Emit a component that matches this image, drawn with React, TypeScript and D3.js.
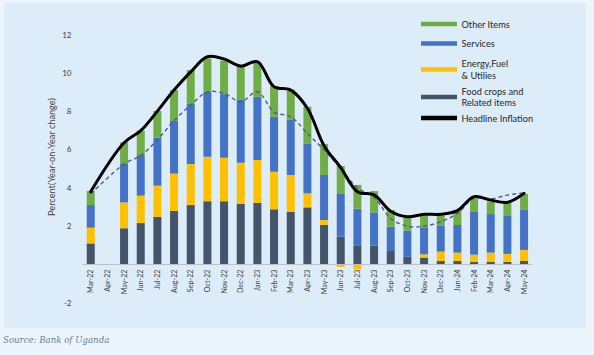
import React from "react";
import * as d3 from "d3";

const categories = [
  "Mar-22", "Apr-22", "May-22", "Jun-22", "Jul-22", "Aug-22", "Sep-22", "Oct-22", "Nov-22",
  "Dec-22", "Jan-23", "Feb-23", "Mar-23", "Apr-23", "May-23", "Jun-23", "Jul-23", "Aug-23",
  "Sep-23", "Oct-23", "Nov-23", "Dec-23", "Jun-24", "Feb-24", "Mar-24", "Apr-24", "May-24",
];

const food: (number | null)[] = [
  1.1, null, 1.89, 2.16, 2.48, 2.79, 3.1, 3.3, 3.3, 3.16, 3.22, 2.88, 2.75, 2.98, 2.06, 1.45,
  0.97, 0.98, 0.7, 0.4, 0.36, 0.18, 0.18, 0.13, 0.13, 0.13, 0.18,
];
const energy: (number | null)[] = [
  0.82, null, 1.35, 1.43, 1.63, 1.95, 2.14, 2.32, 2.27, 2.15, 2.23, 1.96, 1.92, 0.73, 0.26, -0.13,
  -0.25, 0.0, 0.0, 0.0, 0.17, 0.49, 0.44, 0.38, 0.49, 0.42, 0.58,
];
const services: (number | null)[] = [
  1.18, null, 2.04, 2.12, 2.5, 2.75, 3.13, 3.39, 3.32, 3.27, 3.3, 2.87, 2.9, 2.58, 2.35, 2.23,
  1.94, 1.74, 1.27, 1.36, 1.41, 1.34, 1.44, 2.23, 2.01, 1.98, 2.08,
];
const other: (number | null)[] = [
  0.73, null, 1.09, 1.27, 1.4, 1.61, 1.78, 1.74, 1.74, 1.74, 1.83, 1.6, 1.57, 1.94, 1.62, 1.46,
  1.24, 1.11, 0.87, 0.73, 0.69, 0.57, 0.78, 0.71, 0.65, 0.66, 0.84,
];
const headline: (number | null)[] = [
  3.8, null, 6.35, 6.98, 8.0, 9.1, 10.05, 10.84, 10.72, 10.35, 10.58, 9.27, 9.1, 8.15, 6.2, 5.05,
  3.8, 3.63, 2.78, 2.49, 2.62, 2.62, 2.81, 3.54, 3.36, 3.24, 3.71,
];
const core: (number | null)[] = [
  3.68, null, 5.24, 5.68, 6.5, 7.5, 8.32, 9.0, 8.93, 8.49, 9.01, 7.95, 7.71, 6.84, 5.97, 5.0,
  4.0, 3.5, 2.4, 2.0, 2.0, 2.23, 2.67, 3.45, 3.42, 3.62, 3.74,
];
const yTicks = [12, 10, 8, 6, 4, 2, -2];

const seriesKeys = ["food", "energy", "services", "other"];
const seriesColors: Record<string, string> = {
  food: "#44546a",
  energy: "#ffc000",
  services: "#4472c4",
  other: "#70ad47",
};

const legendItems = [
  { lines: ["Other Items"], color: "#70ad47", y: 24 },
  { lines: ["Services"], color: "#4472c4", y: 43.5 },
  { lines: ["Energy,Fuel", "& Utilies"], color: "#ffc000", y: 69.5 },
  { lines: ["Food crops and", "Related items"], color: "#44546a", y: 97 },
  { lines: ["Headline Inflation"], color: "#000000", y: 118 },
];

export default function App() {
  const W = 594;
  const H = 355;
  const x = d3
    .scaleBand<string>()
    .domain(categories)
    .range([82.4, 532.4])
    .paddingInner(0.52)
    .paddingOuter(0.26);
  const y = d3.scaleLinear().domain([-2, 12]).range([302.8, 34.5]);

  const rows = categories.map((c, i) => ({
    cat: c,
    food: food[i] ?? 0,
    energy: energy[i] ?? 0,
    services: services[i] ?? 0,
    other: other[i] ?? 0,
  }));
  const stacked = d3
    .stack<any>()
    .keys(seriesKeys)
    .offset(d3.stackOffsetDiverging)(rows);

  const cx = (c: string) => (x(c) ?? 0) + x.bandwidth() / 2;
  const mkLine = (vals: (number | null)[]) => {
    const pts: [number, number][] = [];
    vals.forEach((v, i) => {
      if (v !== null) pts.push([cx(categories[i]), y(v)]);
    });
    return d3.line().curve(d3.curveCatmullRom.alpha(0.5))(pts) ?? "";
  };

  const font = "Lato, 'Open Sans', sans-serif";
  const textColor = "#404040";

  return (
    <svg
      width={W}
      height={H}
      style={{ position: "absolute", left: 0, top: 0, display: "block" }}
    >
      <rect x={0} y={0} width={W} height={H} fill="#ecf5fc" />
      <rect x={4} y={3} width={582} height={325} fill="#dcedf9" />

      {stacked.map((s) => (
        <g key={s.key} fill={seriesColors[s.key]}>
          {s.map((d, i) => {
            if (food[i] === null) return null;
            const h = Math.abs(y(d[0]) - y(d[1]));
            if (h < 0.01) return null;
            return (
              <rect
                key={i}
                x={x(categories[i])}
                y={Math.min(y(d[0]), y(d[1]))}
                width={x.bandwidth()}
                height={h}
              />
            );
          })}
        </g>
      ))}

      <line x1={82.4} x2={532.4} y1={y(0)} y2={y(0)} stroke="#bfbfbf" strokeWidth={1} />

      <path d={mkLine(core)} fill="none" stroke="#4d5a8c" strokeWidth={1.4} strokeDasharray="4 3" />
      <path
        d={mkLine(headline)}
        fill="none"
        stroke="#000"
        strokeWidth={3}
        strokeLinejoin="round"
        strokeLinecap="round"
      />

      {yTicks.map((t) => (
        <text
          key={t}
          x={71.5}
          y={y(t)}
          textAnchor="end"
          dominantBaseline="central"
          fontFamily={font}
          fontSize={8}
          fill={textColor}
        >
          {t}
        </text>
      ))}

      <text
        transform={`translate(51,157) rotate(-90)`}
        textAnchor="middle"
        dominantBaseline="central"
        fontFamily={font}
        fontSize={9.2}
        fill={textColor}
      >
        Percent(Year-on-Year change)
      </text>

      {categories.map((c) => (
        <text
          key={c}
          transform={`translate(${cx(c)},${y(0) + 5}) rotate(-90)`}
          textAnchor="end"
          dominantBaseline="central"
          fontFamily={font}
          fontSize={7.2}
          fill={textColor}
        >
          {c}
        </text>
      ))}

      {legendItems.map((it) => (
        <g key={it.lines[0]}>
          <line x1={421} x2={457} y1={it.y} y2={it.y} stroke={it.color} strokeWidth={4.5} />
          {it.lines.map((ln, k) => (
            <text
              key={k}
              x={461.5}
              y={it.y + (k - (it.lines.length - 1) / 2) * 11.5}
              dominantBaseline="central"
              fontFamily={font}
              fontSize={9.2}
              fill="#262626"
            >
              {ln}
            </text>
          ))}
        </g>
      ))}

      <text
        x={3}
        y={343}
        fontFamily="'DejaVu Serif', serif"
        fontStyle="italic"
        fontSize={8.6}
        fill="#6b7d9c"
      >
        Source: Bank of Uganda
      </text>
    </svg>
  );
}
